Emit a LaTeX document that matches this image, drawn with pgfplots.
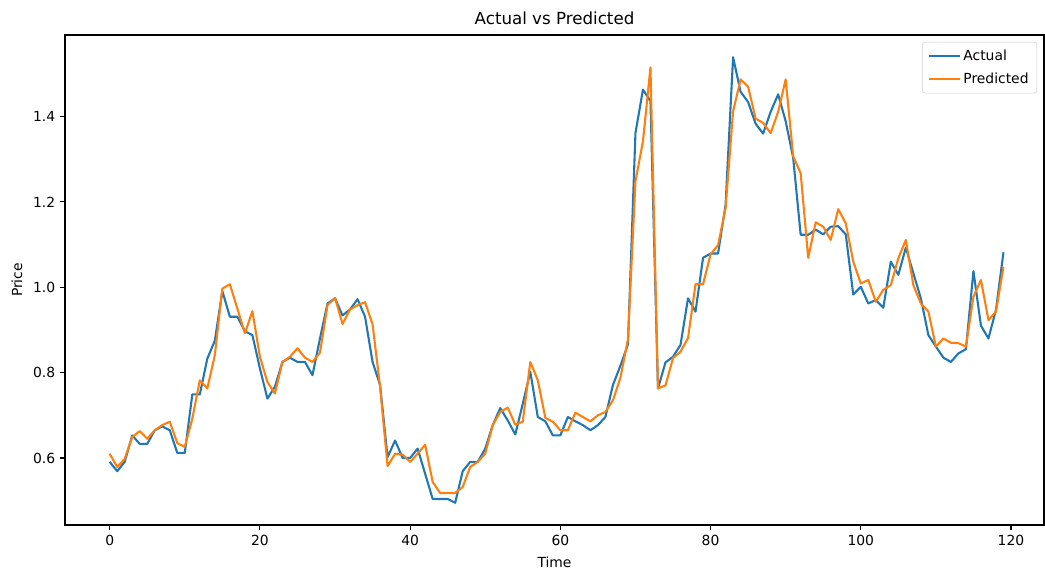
\documentclass[border=0pt]{standalone}
\usepackage{pgfplots}
\usepackage{pgfplotstable}
\pgfplotsset{compat=1.18}
\usepackage{fontspec}
\setmainfont{DejaVu Sans}
\definecolor{mplblue}{HTML}{1F77B4}
\definecolor{mplorange}{HTML}{FF7F0E}
\pgfplotstableread{
t actual pred
0 0.591 0.610
1 0.569 0.579
2 0.591 0.598
3 0.653 0.649
4 0.633 0.663
5 0.633 0.645
6 0.665 0.665
7 0.674 0.677
8 0.665 0.685
9 0.612 0.635
10 0.612 0.626
11 0.749 0.692
12 0.749 0.782
13 0.833 0.763
14 0.875 0.841
15 0.991 0.997
16 0.931 1.007
17 0.931 0.950
18 0.897 0.892
19 0.888 0.944
20 0.810 0.837
21 0.739 0.778
22 0.767 0.751
23 0.825 0.825
24 0.835 0.837
25 0.825 0.857
26 0.825 0.835
27 0.794 0.825
28 0.880 0.847
29 0.962 0.958
30 0.974 0.975
31 0.934 0.914
32 0.948 0.948
33 0.972 0.958
34 0.931 0.965
35 0.825 0.913
36 0.771 0.767
37 0.602 0.581
38 0.641 0.610
39 0.600 0.608
40 0.600 0.591
41 0.622 0.610
42 0.563 0.631
43 0.504 0.544
44 0.504 0.518
45 0.504 0.518
46 0.495 0.518
47 0.569 0.532
48 0.591 0.579
49 0.591 0.591
50 0.622 0.610
51 0.677 0.677
52 0.717 0.708
53 0.688 0.718
54 0.655 0.678
55 0.727 0.685
56 0.802 0.825
57 0.696 0.782
58 0.686 0.694
59 0.653 0.685
60 0.653 0.665
61 0.696 0.665
62 0.686 0.706
63 0.677 0.696
64 0.665 0.686
65 0.677 0.700
66 0.696 0.708
67 0.771 0.735
68 0.816 0.788
69 0.866 0.878
70 1.361 1.248
71 1.463 1.342
72 1.436 1.515
73 0.763 0.763
74 0.824 0.770
75 0.837 0.834
76 0.865 0.849
77 0.974 0.881
78 0.943 1.007
79 1.069 1.007
80 1.079 1.077
81 1.079 1.099
82 1.193 1.185
83 1.539 1.412
84 1.458 1.487
85 1.434 1.470
86 1.383 1.395
87 1.360 1.385
88 1.411 1.361
89 1.452 1.411
90 1.389 1.487
91 1.303 1.307
92 1.123 1.267
93 1.123 1.069
94 1.135 1.152
95 1.124 1.142
96 1.142 1.111
97 1.143 1.183
98 1.124 1.150
99 0.983 1.060
100 1.001 1.009
101 0.962 1.017
102 0.970 0.966
103 0.952 0.994
104 1.060 1.005
105 1.029 1.068
106 1.093 1.111
107 1.033 1.005
108 0.974 0.962
109 0.888 0.943
110 0.861 0.861
111 0.835 0.880
112 0.825 0.870
113 0.845 0.869
114 0.855 0.861
115 1.038 0.978
116 0.910 1.017
117 0.880 0.923
118 0.947 0.943
119 1.082 1.048
}\datatable
\begin{document}
\begin{tikzpicture}
\path[use as bounding box] (-46.8pt,-32.4pt) rectangle (705.6pt,378pt);
\begin{axis}[
  at={(0pt,0pt)}, anchor=south west,
  scale only axis,
  width=704.9pt, height=352.8pt,
  xmin=-5.95, xmax=124.4,
  ymin=0.443, ymax=1.591,
  xtick={0,20,...,120},
  ytick={0.6,0.8,1.0,1.2,1.4},
  yticklabel style={/pgf/number format/.cd, fixed, fixed zerofill, precision=1},
  /pgf/number format/assume math mode=true,
  tick pos=left,
  tick align=outside,
  major tick length=3.5pt,
  every tick/.style={black, line width=0.8pt},
  axis line style={line width=0.8pt},
  ticklabel style={font=\fontsize{10}{12}\selectfont},
  xlabel={Time}, ylabel={Price},
  label style={font=\fontsize{10}{12}\selectfont},
  xlabel style={yshift=-1.5pt},
  ylabel style={yshift=1pt},
  title={Actual vs Predicted},
  title style={font=\fontsize{12}{14}\selectfont, yshift=-2pt},
  legend style={at={(axis description cs:0.993,0.986)}, anchor=north east,
    draw=black!20, rounded corners=2pt, font=\fontsize{10}{12}\selectfont,
    row sep=3.5pt, inner xsep=4pt, inner ysep=3.5pt, cells={anchor=west}},
  legend image code/.code={\draw[#1] (0pt,0pt) -- (22pt,0pt);},
  clip=true,
]
\addplot[mplblue, line width=1.5pt, line join=round] table[x=t, y=actual] {\datatable};
\addlegendentry{Actual}
\addplot[mplorange, line width=1.5pt, line join=round] table[x=t, y=pred] {\datatable};
\addlegendentry{Predicted}
\end{axis}
\end{tikzpicture}
\end{document}
